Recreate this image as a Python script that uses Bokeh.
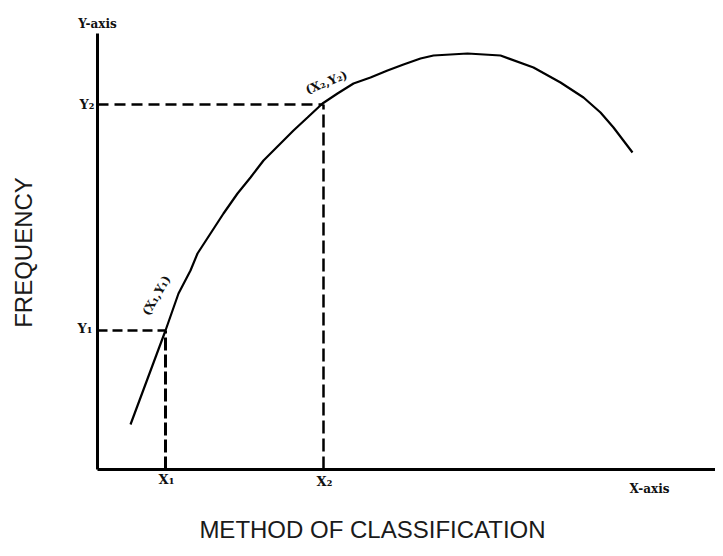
from bokeh.plotting import figure
from bokeh.models import Range1d
from bokeh.core.properties import value
from bokeh.embed import file_html
from bokeh.resources import INLINE

curve_x = [33, 68, 81, 93, 100, 113, 126, 140, 153, 166, 181, 196, 210, 225,
           240, 256, 273, 290, 306, 323, 336, 370, 403, 436, 463, 486, 503, 516, 535]
curve_y = [45, 139, 176, 199, 216, 236, 256, 276, 292, 309, 324, 339, 352, 366,
           376, 386, 392, 399, 405, 411, 414, 416, 414, 402, 387, 372, 357, 342, 317]

point_x = [68, 226]       # X1, X2
point_y = [139, 365]      # Y1, Y2
point_labels = ["(X\u2081,Y\u2081)", "(X\u2082,Y\u2082)"]
x_tick_labels = ["X\u2081", "X\u2082"]
y_tick_labels = ["Y\u2081", "Y\u2082"]

x_axis_end = 640
y_axis_end = 436
x_axis_name = "X-axis"
y_axis_name = "Y-axis"
x_title = "METHOD OF CLASSIFICATION"
y_title = "FREQUENCY"

serif = value("DejaVu Serif")
sans = value("Liberation Sans")

p = figure(width=715, height=548, output_backend="svg", toolbar_location=None,
           x_range=Range1d(-97, 618), y_range=Range1d(-79, 469),
           min_border=0)
p.axis.visible = False
p.grid.visible = False
p.outline_line_color = None
p.background_fill_color = "white"

# axes drawn as heavy lines
p.line([0, x_axis_end], [0, 0], line_color="black", line_width=3)
p.line([0, 0], [0, y_axis_end], line_color="black", line_width=3)

# dashed guides
p.line([0, point_x[0]], [point_y[0], point_y[0]], line_color="black",
       line_width=2.5, line_dash="10 5")
p.line([point_x[0], point_x[0]], [0, point_y[0]], line_color="black",
       line_width=3, line_dash="13 4")
p.line([0, point_x[1]], [point_y[1], point_y[1]], line_color="black",
       line_width=2.5, line_dash="11 6")
p.line([point_x[1], point_x[1]], [0, point_y[1]], line_color="black",
       line_width=2.5, line_dash="13 5")

# curve
p.line(curve_x, curve_y, line_color="black", line_width=2.2)

# small labels
p.text([0], [y_axis_end], text=[y_axis_name], text_font=serif, text_font_style="bold",
       text_font_size="12px", text_align="center", text_baseline="bottom",
       y_offset=-3, text_color="#111")
p.text([x_axis_end - 88], [0], text=[x_axis_name], text_font=serif, text_font_style="bold",
       text_font_size="12px", text_align="center", text_baseline="middle",
       y_offset=19, text_color="#111")
p.text(point_x, [0, 0], text=x_tick_labels, text_font=serif, text_font_style="bold",
       text_font_size="13px", text_align="center", text_baseline="middle",
       x_offset=[1, 1], y_offset=[10, 12], text_color="#111")
p.text([0, 0], point_y, text=y_tick_labels, text_font=serif, text_font_style="bold",
       text_font_size="13px", text_align="right", text_baseline="middle",
       x_offset=[-5, -3], y_offset=[-2, 0], text_color="#111")
p.text(point_x, point_y, text=point_labels, text_font=serif, text_font_style="bold",
       text_font_size="12px", text_align="center", text_baseline="middle",
       angle=[1.05, 0.38], x_offset=[-9, 3], y_offset=[-35, -22], text_color="#111")

# outer titles
p.text([-74], [217], text=[y_title], text_font=sans, text_font_size="24px",
       text_align="center", text_baseline="middle", angle=[1.5708],
       text_color="#1a1a1a")
p.text([275], [-60], text=[x_title], text_font=sans, text_font_size="24px",
       text_align="center", text_baseline="middle", text_color="#1a1a1a")

open("out.html", "w").write(file_html(p, INLINE))
